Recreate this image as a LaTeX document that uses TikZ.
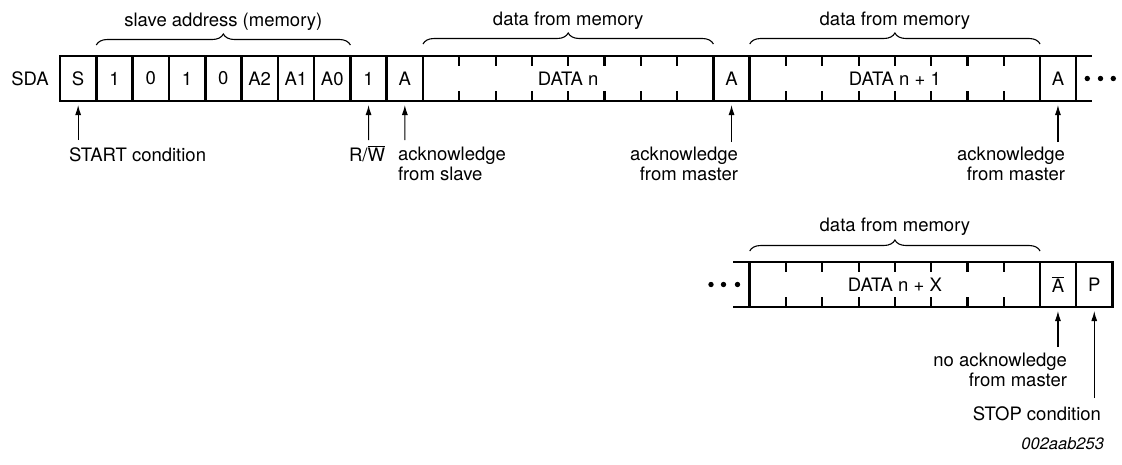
\documentclass[tikz,border=0pt]{standalone}
\usepackage{fontspec}
\setmainfont{TeX Gyre Heros}
\usetikzlibrary{arrows.meta,decorations.pathreplacing}
\begin{document}
\begin{tikzpicture}[x=1pt,y=-1pt,
  font=\fontsize{18.5}{20.5}\selectfont,
  cell/.style={draw,line width=2.6pt,minimum width=36.3pt,minimum height=45pt,inner sep=0pt,outer sep=0pt,anchor=center},
  databox/.style={cell,minimum width=290.4pt},
  tickmark/.style={line width=2.2pt},
  bus/.style={line width=2.6pt},
  arr/.style={line width=1.1pt,-{Latex[length=10pt,width=6pt]},shorten >=4pt},
  brc/.style={decorate,decoration={brace,amplitude=11pt},line width=1.1pt},
  lbl/.style={inner sep=0pt,outer sep=0pt}
]
\useasboundingbox (0,0) rectangle (1122,464);

% ---- top row ----
\node[lbl] (sda) at (30,78.5) {SDA};
\foreach \t [count=\i from 0] in {S,1,0,1,0,A2,A1,A0,1,A}
  \node[cell] (c\i) at ({60+36.3*(\i+0.5)},78.5) {\t};
\node[databox] (dn) at (568.2,78.5) {DATA n};
\node[cell] (a1) at (731.55,78.5) {A};
\node[databox] (dn1) at (894.9,78.5) {DATA n + 1};
\node[cell] (a2) at (1057.95,78.5) {A};
\coordinate (topEndN) at (1092,56);
\coordinate (topEndS) at (1092,101);
\draw[bus] (a2.north east) -- (topEndN);
\draw[bus] (a2.south east) -- (topEndS);
\fill (1087.3,78.5) circle (2.7) (1100.5,78.5) circle (2.7) (1113.3,78.5) circle (2.7);

% ticks
\foreach \b in {dn,dn1}{
  \foreach \k in {1,...,7}{
    \draw[tickmark] ([xshift=\k*36.3pt]\b.north west) -- ++(0,10);
    \draw[tickmark] ([xshift=\k*36.3pt]\b.south west) -- ++(0,-10);
  }
}

% braces and labels
\draw[brc] ([yshift=11pt]c1.north west) -- ([yshift=11pt]c7.north east);
\node[lbl,anchor=base] (lsa) at (223.35,26.5) {slave address (memory)};
\draw[brc] ([yshift=12pt]dn.north west) -- ([yshift=12pt]dn.north east);
\node[lbl,anchor=base] (ld1) at (568.2,25.5) {data from memory};
\draw[brc] ([yshift=12pt]dn1.north west) -- ([yshift=12pt]dn1.north east);
\node[lbl,anchor=base] (ld2) at (894.9,25.5) {data from memory};

% arrows and labels top
\coordinate (sA) at (78.15,140);
\draw[arr] (sA) -- (c0);
\node[lbl,anchor=north west] (lstart) at (69,148) {START condition};
\coordinate (rwA) at (368.55,140);
\draw[arr] (rwA) -- (c8);
\node[lbl,anchor=base] (lrw) at (367,161) {R/$\overline{\mbox{W}}$};
\coordinate (ackSA) at (404.85,140);
\draw[arr] (ackSA) -- (c9);
\node[lbl,anchor=north west,align=left] (lacks) at (398,147) {acknowledge\\from slave};
\coordinate (ackM1) at (731.55,142);
\draw[arr] (ackM1) -- (a1);
\node[lbl,anchor=north east,align=right] (lackm1) at (738,147) {acknowledge\\from master};
\coordinate (ackM2) at (1057.95,142);
\draw[arr] (ackM2) -- (a2);
\node[lbl,anchor=north east,align=right] (lackm2) at (1065,147) {acknowledge\\from master};

% ---- bottom row ----
\node[databox] (dx) at (894.9,284.5) {DATA n + X};
\node[cell] (na) at (1057.95,284.5) {$\overline{\mbox{A}}$};
\node[cell] (p) at (1094.25,284.5) {P};
\coordinate (botStartN) at (733,262);
\coordinate (botStartS) at (733,307);
\draw[bus] (botStartN) -- (dx.north west);
\draw[bus] (botStartS) -- (dx.south west);
\fill (711,284.5) circle (2.7) (723.5,284.5) circle (2.7) (737.5,284.5) circle (2.7);
\foreach \k in {1,...,7}{
  \draw[tickmark] ([xshift=\k*36.3pt]dx.north west) -- ++(0,10);
  \draw[tickmark] ([xshift=\k*36.3pt]dx.south west) -- ++(0,-10);
}
\draw[brc] ([yshift=11pt]dx.north west) -- ([yshift=11pt]dx.north east);
\node[lbl,anchor=base] (ld3) at (894.9,231) {data from memory};

\coordinate (nackA) at (1057.95,347);
\draw[arr] (nackA) -- (na);
\node[lbl,anchor=north east,align=right] (lnack) at (1067,353) {no acknowledge\\from master};
\coordinate (stopA) at (1094.25,398);
\draw[arr] (stopA) -- (p);
\node[lbl,anchor=north east] (lstop) at (1101,407) {STOP condition};
\node[lbl,anchor=north east,font=\fontsize{16.5}{18}\selectfont\itshape] (lid) at (1104,437) {002aab253};
\end{tikzpicture}
\end{document}
